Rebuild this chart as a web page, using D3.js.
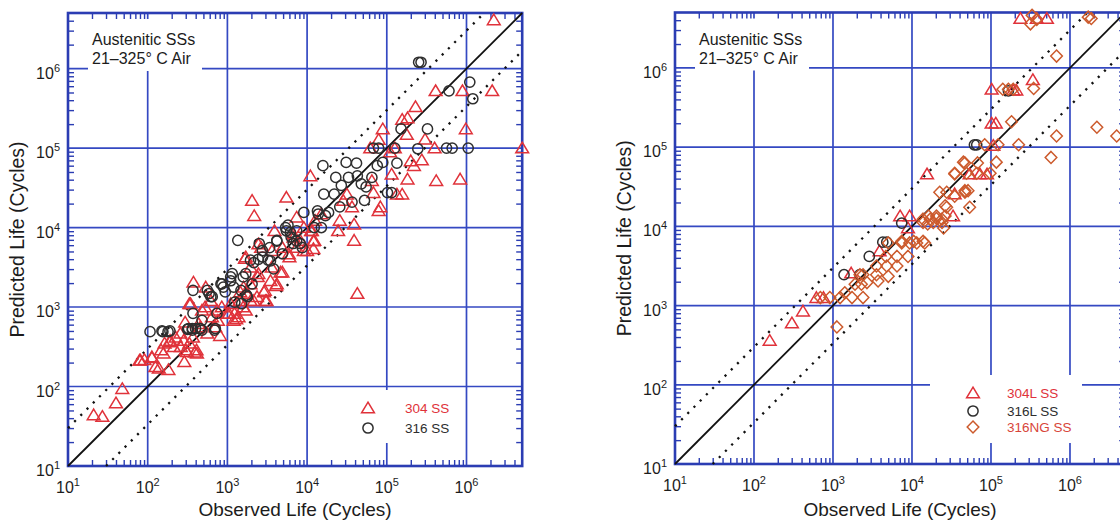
<!DOCTYPE html>
<html><head><meta charset="utf-8">
<script src="https://cdn.jsdelivr.net/npm/d3@7"></script>
<style>body{margin:0;background:#fff} svg{display:block;font-family:"Liberation Sans",Arial,sans-serif}</style>
</head><body><svg id="c" width="1120" height="522"></svg>
<script>
// ---------------- data ----------------
const decades = [1e1, 1e2, 1e3, 1e4, 1e5, 1e6];
const exponents = ["1", "2", "3", "4", "5", "6"];
const axisMin = 10, axisMax = 5e6;
const scatterFactor = 3;
const boxLines = ["Austenitic SSs", "21\u2013325\u00b0 C Air"];
const xTitle = "Observed Life (Cycles)";
const yTitle = "Predicted Life (Cycles)";

// left panel: [observed, predicted]
const ss304 = [[21,44],[27,42],[40,62],[48,94],[79,214],[91,218],[113,230],[125,177],[138,170],[182,163],[147,288],[163,350],[190,363],[224,417],[260,316],[288,205],[300,288],[333,350],[295,645],[333,1100],[370,417],[390,270],[410,288],[375,2050],[436,617],[480,912],[535,1780],[620,1200],[760,676],[810,436],[850,1000],[1050,832],[1230,832],[1290,708],[1420,1200],[1580,1000],[1740,1480],[1660,4070],[1950,1950],[2140,1200],[2040,21900],[2170,14100],[2400,2400],[2650,5600],[2950,1620],[3100,1200],[3600,3160],[4100,1860],[3900,9100],[4650,2750],[4900,5600],[5500,24000],[6000,4260],[6700,8300],[7400,13500],[8200,6900],[10000,5130],[11200,9100],[11000,44700],[12300,6900],[12600,12300],[15100,14800],[24500,9100],[25700,12300],[28400,21900],[31600,26300],[36600,18200],[38900,11000],[38900,6900],[42700,1480],[65000,38900],[68000,27500],[79000,16300],[83000,18200],[62000,100000],[79000,128000],[89000,174000],[110000,89000],[115000,46800],[126000,100000],[134000,26300],[156000,26300],[156000,229000],[182000,240000],[178000,148000],[182000,40700],[200000,69000],[219000,60000],[229000,331000],[275000,70800],[302000,129000],[398000,100000],[410000,525000],[417000,38900],[832000,40700],[890000,525000],[980000,174000],[2.1e6,525000],[2.2e6,4.1e6],[5e6,100000],[1700,4270],[2450,6200],[4170,1950],[4900,2750],[12000,6800],[12000,5400],[9100,5130],[5900,4650],[345,1100],[525,1000],[640,750],[740,910],[1000,830],[1200,680],[1380,750],[1700,910],[1950,1200],[2350,1350],[2880,1550],[3020,1200],[1600,1780],[282,380],[310,275],[415,263],[213,316],[158,263],[113,236],[81,214],[257,467],[191,380],[457,562],[560,467],[705,562],[1100,1100],[1450,1550],[3470,2140],[6760,7550],[9100,10000],[11500,9100],[7400,5620],[3630,5130],[2450,2630],[1950,3160]];
const ss316 = [[107,490],[155,490],[180,490],[316,525],[363,513],[370,832],[370,1620],[480,513],[560,1620],[620,1350],[690,513],[830,1950],[940,1550],[1100,2140],[1150,2630],[1240,1150],[1350,6900],[1480,1620],[1580,2400],[1740,1410],[1950,3890],[2040,1950],[2510,6300],[2760,4260],[3240,3890],[3390,5600],[3800,3020],[4170,6900],[4900,4680],[5500,9100],[5760,10700],[6300,7600],[6700,6300],[7400,9100],[8200,6300],[8700,5600],[9100,15500],[12300,10000],[13800,14800],[15100,10000],[15800,60000],[16200,26300],[18600,15500],[21900,26300],[22900,42700],[25700,18200],[26900,33900],[30900,66000],[33100,42700],[36600,20900],[41700,64500],[42700,44700],[47900,35500],[52500,21900],[55000,32400],[65000,42700],[68000,100000],[79000,100000],[76000,60000],[89000,66000],[102000,27500],[115000,27500],[126000,100000],[134000,64500],[151000,174000],[251000,1.2e6],[269000,1.2e6],[324000,174000],[245000,98000],[562000,100000],[661000,100000],[603000,525000],[1.05e6,100000],[1.1e6,676000],[1.2e6,417000],[151,500],[190,500],[363,537],[325,537],[457,537],[645,1350],[590,1480],[855,1950],[1100,2400],[1200,1780],[1700,2630],[2140,3630],[2750,5130],[2450,3980],[3470,3800],[4170,6760],[5370,10000],[6170,8700],[7400,6760],[13500,16200],[17000,14100],[740,830],[480,680],[1780,1350],[1510,1100],[398,537],[705,537],[890,1780]];

// right panel: [observed, predicted]
const ss304L = [[158,363],[302,603],[417,851],[617,1260],[759,1260],[1700,2570],[3890,4900],[7080,13500],[9330,13500],[15500,45700],[33100,13500],[34700,25700],[53700,45700],[72400,45700],[89100,45700],[102000,537000],[191000,524000],[209000,524000],[339000,708000],[102000,200000],[115000,200000],[107000,105000],[236000,4.2e6],[380000,4.2e6],[510000,4.2e6],[8900,9550]];
const ss316L = [[1380,2450],[2190,2450],[2880,4170],[4270,6310],[4790,6310],[7410,11000],[61700,107000],[66000,107000],[166000,513000]];
const ss316NG = [[1120,537],[692,1260],[912,1260],[1230,1260],[1740,1260],[2400,1260],[1410,1450],[1900,1860],[2290,1860],[2690,1950],[2190,2450],[2400,2450],[3550,2450],[5010,2340],[3720,2040],[3550,3160],[4790,3160],[4680,4170],[6460,4170],[8910,4170],[6460,3160],[5010,6170],[7410,6170],[9330,6170],[11500,6170],[14500,6170],[13800,12300],[17000,12300],[20400,12600],[24000,12300],[15800,10700],[26300,18200],[34700,24000],[46800,28200],[34700,45700],[44700,64600],[25100,9550],[1.7e6,4.37e6],[1.86e6,4.2e6],[331000,4.6e6],[380000,4.1e6],[316000,3.6e6],[676000,1.41e6],[141000,537000],[166000,537000],[191000,537000],[347000,550000],[182000,209000],[2.19e6,178000],[3.9e6,138000],[676000,138000],[575000,74100],[83200,107000],[123000,107000],[224000,107000],[117000,64600],[97700,46800],[46800,63100],[67600,63100],[34700,46800],[49000,46800],[66000,46800],[22400,26900],[27500,26900],[46800,26900],[51300,28200],[53700,17400],[27500,17400],[16200,13500],[20400,13500],[26300,13500],[13800,11200],[18600,11200],[24000,11200],[7410,6460],[10500,6460],[13800,6460]];

const legendLeft = ["304 SS", "316 SS"];
const legendRight = ["304L SS", "316L SS", "316NG SS"];

// ---------------- styles ----------------
const BLUE = "#3449c2", FRAME = "#2b3db3";
const RED = "#e0323a", DARK = "#2e2e2e", ORANGE = "#cc5a2c";
const shapes = {
  tri: "M0,-5.8L6.4,4.8L-6.4,4.8Z",
  circ: d3.symbol(d3.symbolCircle, 82)(),
  dia: "M0,-6L5.8,0L0,6L-5.8,0Z"
};

const svg = d3.select("#c");
svg.append("rect").attr("width", 1120).attr("height", 522).attr("fill", "#fff");

const minor = [];
decades.forEach(d => { for (let m = 2; m <= 9; m++) { const v = m * d; if (v < axisMax) minor.push(v); } });

function panel(cfg) {
  const x = d3.scaleLog().domain([axisMin, axisMax]).range(cfg.xr);
  const y = d3.scaleLog().domain([axisMin, axisMax]).range(cfg.yr);
  const [L, R] = cfg.xr, [B, T] = cfg.yr;
  const g = svg.append("g");

  // grid
  g.selectAll(".vg").data(decades.slice(1)).join("line")
    .attr("x1", d => x(d)).attr("x2", d => x(d)).attr("y1", T).attr("y2", B)
    .attr("stroke", BLUE).attr("stroke-width", 1.7);
  g.selectAll(".hg").data(decades.slice(1)).join("line")
    .attr("y1", d => y(d)).attr("y2", d => y(d)).attr("x1", L).attr("x2", R)
    .attr("stroke", BLUE).attr("stroke-width", 1.7);

  // white boxes over grid
  g.append("rect").attr("x", L + 20).attr("y", T + 6).attr("width", 114).attr("height", 52).attr("fill", "#fff");
  const lb = cfg.legendBox;
  g.append("rect").attr("x", L + lb[0]).attr("y", B + lb[1]).attr("width", lb[2]).attr("height", lb[3]).attr("fill", "#fff");

  // minor ticks on four sides
  const styleAxis = sel => { sel.select(".domain").remove(); sel.selectAll("line").attr("stroke", FRAME).attr("stroke-width", 1.4); };
  g.append("g").attr("transform", `translate(0,${B})`).call(d3.axisBottom(x).tickValues(minor).tickSize(-6).tickFormat("")).call(styleAxis);
  g.append("g").attr("transform", `translate(0,${T})`).call(d3.axisTop(x).tickValues(minor).tickSize(-6).tickFormat("")).call(styleAxis);
  g.append("g").attr("transform", `translate(${L},0)`).call(d3.axisLeft(y).tickValues(minor).tickSize(-6).tickFormat("")).call(styleAxis);
  g.append("g").attr("transform", `translate(${R},0)`).call(d3.axisRight(y).tickValues(minor).tickSize(-6).tickFormat("")).call(styleAxis);

  // frame
  g.append("rect").attr("x", L).attr("y", T).attr("width", R - L).attr("height", B - T)
    .attr("fill", "none").attr("stroke", FRAME).attr("stroke-width", 2.6);

  // reference lines
  const lines = [
    {p: [[axisMin, axisMin], [axisMax, axisMax]], dash: null, w: 1.8},
    {p: [[axisMin, axisMin * scatterFactor], [axisMax / scatterFactor, axisMax]], dash: "2.2,6.6", w: 2.3},
    {p: [[axisMin * scatterFactor, axisMin], [axisMax, axisMax / scatterFactor]], dash: "2.2,6.6", w: 2.3}
  ];
  const lineGen = d3.line().x(d => x(d[0])).y(d => y(d[1]));
  lines.forEach(l => {
    g.append("path").attr("d", lineGen(l.p)).attr("fill", "none").attr("stroke", "#111")
      .attr("stroke-width", l.w).attr("stroke-dasharray", l.dash);
  });

  // markers
  cfg.series.forEach(s => {
    g.append("g").selectAll("path").data(s.data).join("path")
      .attr("d", shapes[s.shape])
      .attr("transform", d => `translate(${x(d[0])},${y(d[1])})`)
      .attr("fill", "none").attr("stroke", s.color).attr("stroke-width", 1.5);
  });

  // legend
  cfg.series.forEach((s, i) => {
    const my = B + cfg.legendY[i];
    g.append("path").attr("d", shapes[s.shape]).attr("transform", `translate(${L + cfg.legendX[0]},${my})`)
      .attr("fill", "none").attr("stroke", s.color).attr("stroke-width", 1.5);
    g.append("text").attr("x", L + cfg.legendX[1]).attr("y", my + 4.5)
      .attr("font-size", 13.5).attr("fill", s.textColor).text(s.label);
  });

  // annotation text
  boxLines.forEach((t, i) => {
    g.append("text").attr("x", L + 24).attr("y", T + 32 + i * 19).attr("font-size", 16).attr("fill", "#1c1c1c").text(t);
  });

  // tick labels
  decades.forEach((d, i) => {
    const tx = g.append("text").attr("x", x(d)).attr("y", B + 27).attr("text-anchor", "middle").attr("fill", "#1c1c1c");
    tx.append("tspan").attr("font-size", 16).text("10");
    tx.append("tspan").attr("font-size", 11).attr("dy", -7).text(exponents[i]);
    const ty = g.append("text").attr("x", L - 8).attr("y", y(d) + 10).attr("text-anchor", "end").attr("fill", "#1c1c1c");
    ty.append("tspan").attr("font-size", 16).text("10");
    ty.append("tspan").attr("font-size", 11).attr("dy", -7).text(exponents[i]);
  });

  // titles
  g.append("text").attr("x", (L + R) / 2).attr("y", 516).attr("text-anchor", "middle")
    .attr("font-size", 19).attr("fill", "#1c1c1c").text(xTitle);
  g.append("text").attr("transform", `translate(${L - 44},${(T + B) / 2}) rotate(-90)`).attr("text-anchor", "middle")
    .attr("font-size", 19.5).attr("fill", "#1c1c1c").text(yTitle);
}

panel({
  xr: [68, 522.2], yr: [466, 13],
  legendBox: [284, -76, 108, 53],
  legendX: [300, 337], legendY: [-58, -38],
  series: [
    {data: ss304, shape: "tri", color: RED, textColor: RED, label: legendLeft[0]},
    {data: ss316, shape: "circ", color: DARK, textColor: DARK, label: legendLeft[1]}
  ]
});

panel({
  xr: [675, 1125.2], yr: [464, 12.5],
  legendBox: [255, -89, 152, 68],
  legendX: [298, 332], legendY: [-71, -53, -37],
  series: [
    {data: ss304L, shape: "tri", color: RED, textColor: RED, label: legendRight[0]},
    {data: ss316L, shape: "circ", color: DARK, textColor: DARK, label: legendRight[1]},
    {data: ss316NG, shape: "dia", color: ORANGE, textColor: "#d8453a", label: legendRight[2]}
  ]
});
</script></body></html>
